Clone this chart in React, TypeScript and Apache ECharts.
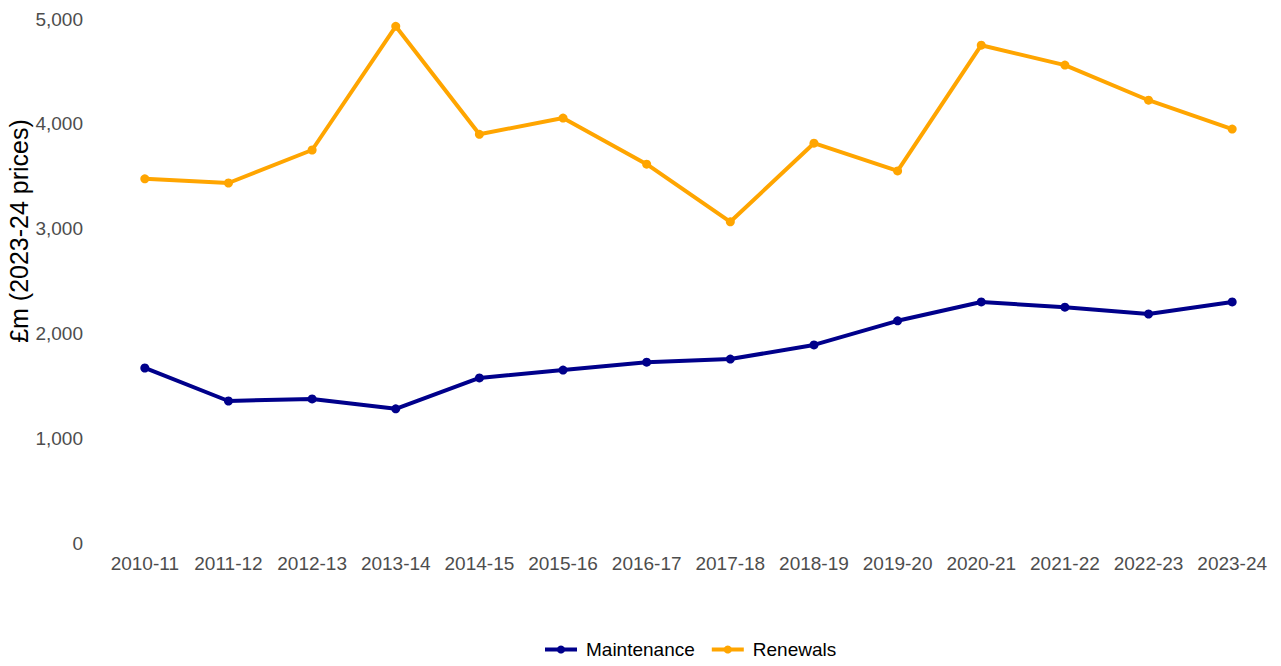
import React, { useEffect, useRef } from "react";
import * as echarts from "echarts";

const years = ["2010-11", "2011-12", "2012-13", "2013-14", "2014-15", "2015-16", "2016-17", "2017-18", "2018-19", "2019-20", "2020-21", "2021-22", "2022-23", "2023-24"];
const maintenance = [1670, 1355, 1375, 1280, 1575, 1650, 1725, 1755, 1890, 2120, 2300, 2250, 2185, 2300];
const renewals = [3475, 3435, 3750, 4930, 3900, 4055, 3615, 3065, 3815, 3550, 4750, 4560, 4225, 3950];
const yTicks = [0, 1000, 2000, 3000, 4000, 5000];

export default function App() {
  const ref = useRef<HTMLDivElement>(null);
  useEffect(() => {
    const chart = echarts.init(ref.current!, null, { renderer: "svg" });
    const font = "Liberation Sans, Arial, sans-serif";
    chart.setOption({
      animation: false,
      textStyle: { fontFamily: font },
      grid: { left: 103, right: 7, top: 19, bottom: 123 },
      xAxis: {
        type: "category",
        data: years,
        boundaryGap: true,
        axisLine: { show: false },
        axisTick: { show: false },
        axisLabel: { color: "#4d4d4d", fontSize: 19, margin: 11, fontFamily: font, interval: 0 },
      },
      yAxis: {
        type: "value",
        min: yTicks[0],
        max: yTicks[yTicks.length - 1],
        interval: 1000,
        splitLine: { show: false },
        axisLine: { show: false },
        axisTick: { show: false },
        axisLabel: {
          color: "#4d4d4d",
          fontSize: 19,
          margin: 20,
          fontFamily: font,
          formatter: (v: number) => v.toLocaleString("en-GB"),
        },
      },
      legend: {
        bottom: 2,
        left: 538,
        itemWidth: 32,
        itemHeight: 10,
        itemGap: 15,
        lineStyle: { width: 4 },
        textStyle: { color: "#000", fontSize: 19, fontFamily: font, padding: [0, 0, 0, 4] },
        data: ["Maintenance", "Renewals"],
      },
      graphic: [
        {
          type: "text",
          x: 19,
          y: 231,
          rotation: Math.PI / 2,
          style: {
            text: "£m (2023-24 prices)",
            fontSize: 25,
            fontFamily: font,
            fill: "#000",
            align: "center",
            verticalAlign: "middle",
          },
        },
      ],
      series: [
        {
          name: "Maintenance",
          type: "line",
          data: maintenance,
          symbol: "circle",
          symbolSize: 9,
          lineStyle: { width: 4, color: "#00008B" },
          itemStyle: { color: "#00008B" },
        },
        {
          name: "Renewals",
          type: "line",
          data: renewals,
          symbol: "circle",
          symbolSize: 9,
          lineStyle: { width: 4, color: "#FFA500" },
          itemStyle: { color: "#FFA500" },
        },
      ],
    });
    return () => chart.dispose();
  }, []);
  return (
    <div
      ref={ref}
      style={{ position: "fixed", left: 0, top: 0, width: 1281, height: 666, background: "#fff" }}
    />
  );
}
